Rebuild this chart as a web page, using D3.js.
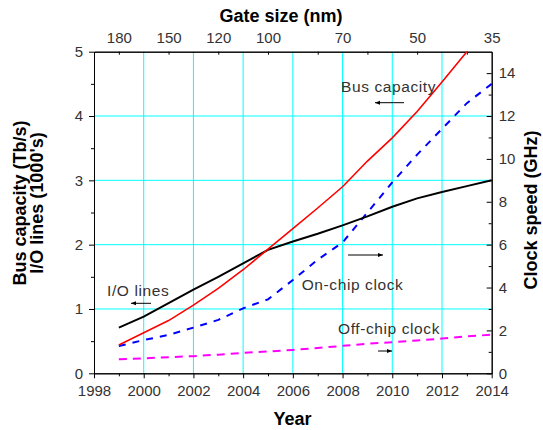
<!DOCTYPE html>
<html><head><meta charset="utf-8">
<script src="https://cdn.jsdelivr.net/npm/d3@7"></script>
<style>
html,body{margin:0;padding:0;background:#fff;}
svg{display:block;font-family:"Liberation Sans",Arial,sans-serif;}
.tick text{fill:#333;font-size:15px;}
</style>
</head><body>
<svg id="chart" width="543" height="430"></svg>
<script>
// ---- data ----
const years = [1999,2000,2001,2002,2003,2004,2005,2006,2007,2008,2009,2010,2011,2012,2013,2014];
const busCapacity = [0.44,0.63,0.82,1.06,1.32,1.61,1.93,2.25,2.57,2.90,3.30,3.66,4.07,4.53,5.0];   // Tb/s, 1999-2013
const ioLines     = [0.71,0.88,1.09,1.30,1.50,1.71,1.92,2.05,2.17,2.30,2.44,2.59,2.72,2.82,2.91,3.0]; // 1000's
const onChipClock = [1.27,1.55,1.79,2.13,2.49,3.03,3.45,4.35,5.3,6.1,7.5,8.9,10.2,11.4,12.6,13.5];  // GHz
const offChipClock= [0.65,0.70,0.75,0.80,0.87,0.95,1.02,1.09,1.18,1.28,1.38,1.45,1.53,1.62,1.72,1.80]; // GHz
const gateYears  = [1999,2001,2003,2005,2008,2011,2014];
const gateLabels = ["180","150","120","100","70","50","35"];
const yearTicks  = [1998,2000,2002,2004,2006,2008,2010,2012,2014];
const leftTicks  = [0,1,2,3,4,5];
const rightTicks = [0,2,4,6,8,10,12,14];

const svg = d3.select("#chart");
const x  = d3.scaleLinear().domain([1998,2014]).range([94,491.7]);
const yL = d3.scaleLinear().domain([0,5]).range([373.3,51.7]);
const yR = d3.scaleLinear().domain([0,15]).range([373.3,51.7]);

// gridlines
const grid = svg.append("g").attr("stroke","#00ffff").attr("stroke-width",1);
grid.selectAll("line.v").data(yearTicks.slice(1,-1)).join("line")
  .attr("x1",d=>x(d)).attr("x2",d=>x(d)).attr("y1",yL(0)).attr("y2",yL(5));
grid.selectAll("line.h").data(leftTicks.slice(1,-1)).join("line")
  .attr("x1",x(1998)).attr("x2",x(2014)).attr("y1",d=>yL(d)).attr("y2",d=>yL(d));

function styleAxis(g){
  g.select(".domain").attr("stroke","#000");
  g.selectAll(".tick line").attr("stroke","#000");
  g.selectAll(".tick text").attr("fill","#333").style("font-size","15px");
}
const minorYears = d3.range(1999,2014,2);
// bottom
svg.append("g").attr("transform",`translate(0,${yL(0)})`)
  .call(d3.axisBottom(x).tickValues(yearTicks).tickFormat(d3.format("d")).tickSizeInner(5).tickSizeOuter(0).tickPadding(7))
  .call(styleAxis);
svg.append("g").attr("transform",`translate(0,${yL(0)})`)
  .call(d3.axisBottom(x).tickValues(minorYears).tickFormat("").tickSizeInner(3).tickSizeOuter(0))
  .call(styleAxis);
// top
svg.append("g").attr("transform",`translate(0,${yL(5)})`)
  .call(d3.axisTop(x).tickValues(gateYears).tickFormat((d,i)=>gateLabels[i]).tickSizeInner(0).tickSizeOuter(0).tickPadding(9))
  .call(styleAxis);
svg.append("g").attr("transform",`translate(0,${yL(5)})`)
  .call(d3.axisTop(x).tickValues(minorYears).tickFormat("").tickSizeInner(-3).tickSizeOuter(0))
  .call(styleAxis);
// left
svg.append("g").attr("transform",`translate(${x(1998)},0)`)
  .call(d3.axisLeft(yL).tickValues(leftTicks).tickFormat(d3.format("d")).tickSizeInner(5).tickSizeOuter(0).tickPadding(6))
  .call(styleAxis);
svg.append("g").attr("transform",`translate(${x(1998)},0)`)
  .call(d3.axisLeft(yL).tickValues([0.5,1.5,2.5,3.5,4.5]).tickFormat("").tickSizeInner(3).tickSizeOuter(0))
  .call(styleAxis);
// right (ticks point inward)
svg.append("g").attr("transform",`translate(${x(2014)},0)`)
  .call(d3.axisRight(yR).tickValues(rightTicks).tickFormat(d3.format("d")).tickSizeInner(-5).tickSizeOuter(0).tickPadding(7))
  .call(styleAxis);
svg.append("g").attr("transform",`translate(${x(2014)},0)`)
  .call(d3.axisRight(yR).tickValues(d3.range(1,15,2)).tickFormat("").tickSizeInner(-3).tickSizeOuter(0))
  .call(styleAxis);

// series
const lineL = d3.line().x(d=>x(d[0])).y(d=>yL(d[1]));
const lineR = d3.line().x(d=>x(d[0])).y(d=>yR(d[1]));
svg.append("path").datum(offChipClock.map((v,i)=>[years[i],v])).attr("d",lineR)
  .attr("fill","none").attr("stroke","#ff00ff").attr("stroke-width",2).attr("stroke-dasharray","8,6");
svg.append("path").datum(onChipClock.map((v,i)=>[years[i],v])).attr("d",lineR)
  .attr("fill","none").attr("stroke","#0000ff").attr("stroke-width",2).attr("stroke-dasharray","7,7");
svg.append("path").datum(ioLines.map((v,i)=>[years[i],v])).attr("d",lineL)
  .attr("fill","none").attr("stroke","#000").attr("stroke-width",2);
svg.append("path").datum(busCapacity.map((v,i)=>[years[i],v])).attr("d",lineL)
  .attr("fill","none").attr("stroke","#ff0000").attr("stroke-width",1.6);

// axis titles
const title = (t,xx,yy,rot)=>svg.append("text").text(t)
  .attr("transform",`translate(${xx},${yy})${rot?" rotate(-90)":""}`)
  .attr("text-anchor","middle").attr("font-weight","bold").attr("font-size",18).attr("fill","#000");
title("Gate size (nm)",281,22,false);
title("Year",292.5,425,false);
title("Bus capacity (Tb/s)",25.5,203,true);
title("I/O lines (1000's)",43,203,true);
title("Clock speed (GHz)",537,210,true);

// annotations
const defs = svg.append("defs");
defs.append("marker").attr("id","ah").attr("viewBox","0 0 10 10").attr("refX",10).attr("refY",5)
  .attr("markerWidth",6).attr("markerHeight",5).attr("orient","auto").attr("markerUnits","userSpaceOnUse")
  .append("path").attr("d","M0,1 L10,5 L0,9 Z").attr("fill","#000");
const note = (t,xx,yy)=>svg.append("text").text(t).attr("x",xx).attr("y",yy)
  .attr("font-size",15.5).attr("letter-spacing","0.6px").attr("fill","#333");
const arrow = (x1,x2,yy)=>svg.append("line").attr("x1",x1).attr("x2",x2).attr("y1",yy).attr("y2",yy)
  .attr("stroke","#000").attr("stroke-width",1).attr("marker-end","url(#ah)");
note("Bus capacity",341,92);   arrow(404,375,102.7);
note("I/O lines",107,296);     arrow(151,131,303.3);
note("On-chip clock",301.7,290); arrow(348,383,255);
note("Off-chip clock",338,334);  arrow(378,392,351);
</script>
</body></html>
